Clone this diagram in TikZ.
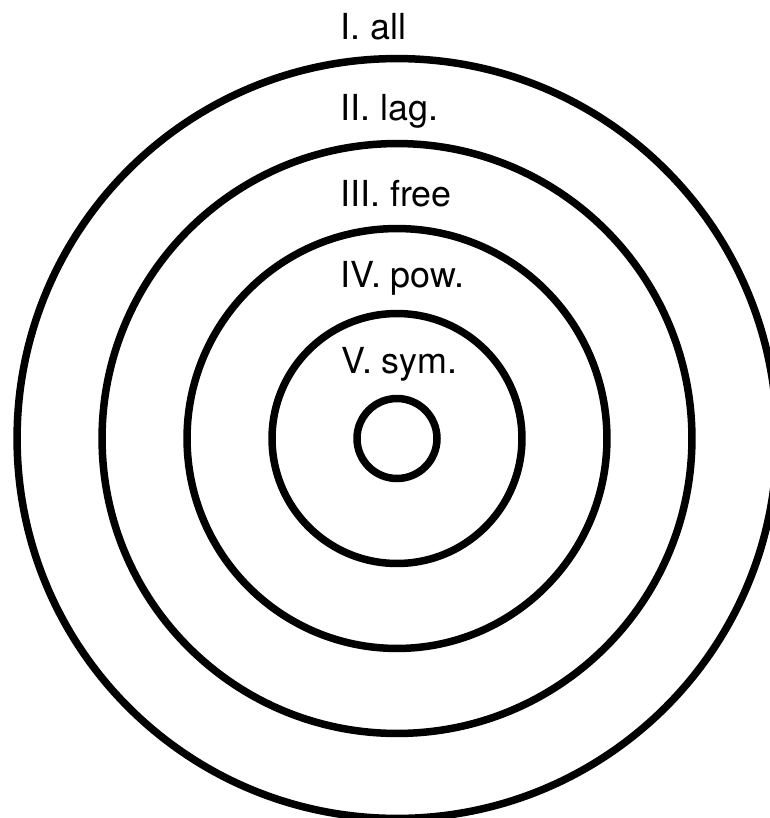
\documentclass[tikz,border=0pt]{standalone}
\usepackage{fontspec}
\setmainfont{TeX Gyre Heros}
\usepackage{tikz}
\usetikzlibrary{positioning}

\begin{document}
\begin{tikzpicture}[
    x=0.02cm,y=-0.02cm,
    ring/.style={draw=black,line width=0.15cm,circle,inner sep=0pt},
    tag/.style={anchor=base west,inner sep=0pt,font=\fontsize{20.4}{24}\selectfont},
  ]
    \clip (0,0) rectangle (770,818);
    \fill[white] (0,0) rectangle (770,818);

    \coordinate (mid) at (397,438.5);
    \node[ring,minimum size=15.2cm] (all) at (mid) {};
    \node[ring,minimum size=11.8cm] (lag) at (mid) {};
    \node[ring,minimum size=8.4cm] (free) at (mid) {};
    \node[ring,minimum size=5cm] (pow) at (mid) {};
    \node[ring,minimum size=1.6cm] (sym) at (mid) {};

    \node[tag] (allname) at (340,39) {I. all};
    \node[tag] (lagname) at (340,120) {II. lag.};
    \node[tag] (freename) at (340,206) {III. free};
    \node[tag] (powname) at (340,287) {IV. pow.};
    \node[tag] (symname) at (341,373) {V. sym.};
  \end{tikzpicture}
\end{document}
